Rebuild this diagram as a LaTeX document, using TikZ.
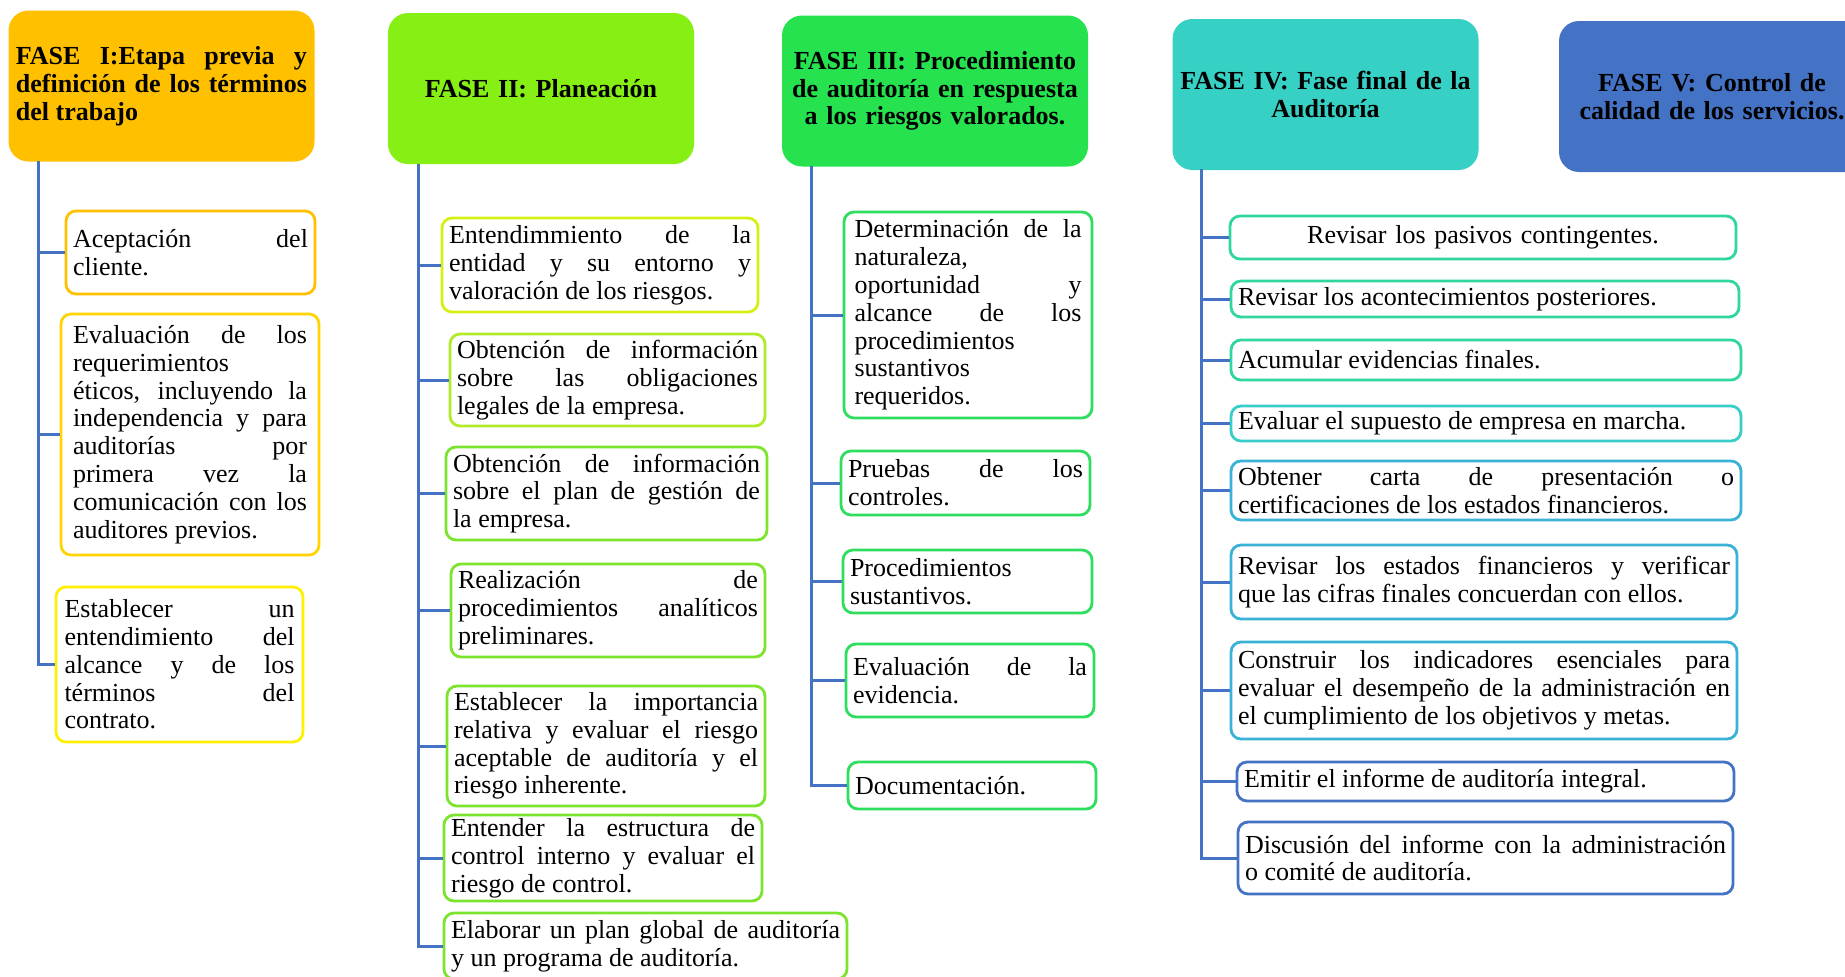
\documentclass[tikz,border=0pt]{standalone}
\usepackage{xcolor}
\usepackage{fontspec}
\setmainfont{Liberation Serif}
\usepackage{tikz}
\setlength{\parindent}{0pt}

\definecolor{conector}{RGB}{68,114,196}
\definecolor{fase1}{RGB}{255,192,0}
\definecolor{fase2}{RGB}{134,239,19}
\definecolor{fase3}{RGB}{37,226,78}
\definecolor{fase4}{RGB}{54,209,196}
\definecolor{fase5}{RGB}{68,114,196}
\definecolor{borde1a}{RGB}{255,192,0}
\definecolor{borde1b}{RGB}{255,212,0}
\definecolor{borde1c}{RGB}{255,240,0}
\definecolor{borde2a}{RGB}{215,240,20}
\definecolor{borde2b}{RGB}{175,235,40}
\definecolor{borde2c}{RGB}{125,228,45}
\definecolor{borde3}{RGB}{45,222,95}
\definecolor{borde4a}{RGB}{48,214,160}
\definecolor{borde4b}{RGB}{55,205,200}
\definecolor{borde4c}{RGB}{58,178,214}
\definecolor{borde4d}{RGB}{68,114,196}

% letra de las cajas (espacios elasticos para justificar)
\newcommand{\letra}{\fontsize{13pt}{13.9pt}\selectfont
    \spaceskip=.25em plus .25em minus .06em\relax\tolerance=10000\relax}
\newcommand{\negrita}{\fontsize{13pt}{13.9pt}\selectfont\bfseries
    \spaceskip=.25em plus .25em minus .06em\relax\tolerance=10000\relax}

\begin{document}
\begin{tikzpicture}[x=0.5pt, y=-0.5pt,
    fase/.style={fill=#1, rounded corners=10pt, inner xsep=3.75pt, inner ysep=0pt,
        text width=145.5pt, minimum height=75.5pt, align=center, font=\negrita},
    hoja/.style={draw=#1, line width=1.4pt, rounded corners=5pt, fill=white,
        inner xsep=3.5pt, inner ysep=0pt, align=justify, font=\letra},
    rama/.style={draw=conector, line width=1.5pt}]

    \useasboundingbox (0,0) rectangle (1845,976);
    \clip (0,0) rectangle (1845,976);

    % fases
    \node[fase=fase1, align=justify] (h1) at (161.5,86) {FASE I:Etapa previa y\linebreak definición de los términos\linebreak del trabajo};
    \node[fase=fase2] (h2) at (541,88.5) {FASE II: Planeación};
    \node[fase=fase3] (h3) at (935,91) {FASE III: Procedimiento\\ de auditoría en respuesta\\ a los riesgos valorados.};
    \node[fase=fase4] (h4) at (1325.5,94.5) {FASE IV: Fase final de la\\ Auditoría};
    \node[fase=fase5] (h5) at (1712,96.5) {FASE V: Control de\\ calidad de los servicios.};

    % fase I
    \node[hoja=borde1a, text width=117.5pt, minimum height=41.5pt] (c11) at (190.5,252.5) {Aceptación del\linebreak cliente.};
    \node[hoja=borde1b, text width=117pt, inner xsep=6pt, minimum height=120.5pt] (c12) at (190,434.5) {Evaluación de los\linebreak requerimientos\newline éticos, incluyendo la\linebreak independencia y para\linebreak auditorías por\linebreak primera vez la\linebreak comunicación con los\linebreak auditores previos.};
    \node[hoja=borde1c, text width=115pt, inner xsep=4.25pt, minimum height=77.5pt] (c13) at (179.5,664.5) {Establecer un\linebreak entendimiento del\linebreak alcance y de los\linebreak términos del\linebreak contrato.};

    % fase II
    \node[hoja=borde2a, text width=151pt, minimum height=47pt] (c21) at (600,265) {Entendimmiento de la\linebreak entidad y su entorno y\linebreak valoración de los riesgos.};
    \node[hoja=borde2b, text width=150.5pt, minimum height=46pt] (c22) at (607.5,380) {Obtención de información\linebreak sobre las obligaciones\linebreak legales de la empresa.};
    \node[hoja=borde2c, text width=153.5pt, minimum height=46.5pt] (c23) at (606.5,493.5) {Obtención de información\linebreak sobre el plan de gestión de\linebreak la empresa.};
    \node[hoja=borde2c, text width=150pt, minimum height=46.5pt] (c24) at (608,610.5) {Realización de\linebreak procedimientos analíticos\linebreak preliminares.};
    \node[hoja=borde2c, text width=152pt, minimum height=60pt] (c25) at (606,746) {Establecer la importancia\linebreak relativa y evaluar el riesgo\linebreak aceptable de auditoría y el\linebreak riesgo inherente.};
    \node[hoja=borde2c, text width=152pt, minimum height=43pt] (c26) at (603,858) {Entender la estructura de\linebreak control interno y evaluar el\linebreak riesgo de control.};
    \node[hoja=borde2c, text width=194.5pt, minimum height=33pt] (c27) at (645.5,946) {Elaborar un plan global de auditoría\linebreak y un programa de auditoría.};

    % fase III
    \node[hoja=borde3, text width=113.5pt, inner xsep=5.25pt, minimum height=103pt] (c31) at (968,315) {Determinación de la\linebreak naturaleza,\newline oportunidad y\linebreak alcance de los\linebreak procedimientos\newline sustantivos\newline requeridos.};
    \node[hoja=borde3, text width=117.5pt, minimum height=32pt] (c32) at (965.5,483) {Pruebas de los\linebreak controles.};
    \node[hoja=borde3, text width=117.5pt, minimum height=31.5pt] (c33) at (967.5,581.5) {Procedimientos\newline sustantivos.};
    \node[hoja=borde3, text width=117pt, minimum height=36.5pt] (c34) at (970,680.5) {Evaluación de la\linebreak evidencia.};
    \node[hoja=borde3, text width=117pt, minimum height=23.5pt] (c35) at (972,785.5) {Documentación.};

    % fase IV
    \node[hoja=borde4a, text width=246pt, minimum height=21.5pt, align=center] (c41) at (1483,237.5) {Revisar los pasivos contingentes.};
    \node[hoja=borde4a, text width=247pt, minimum height=18pt] (c42) at (1485,299) {Revisar los acontecimientos posteriores.};
    \node[hoja=borde4a, text width=248pt, minimum height=20pt] (c43) at (1486,360) {Acumular evidencias finales.};
    \node[hoja=borde4b, text width=248pt, minimum height=17.5pt] (c44) at (1486,423.5) {Evaluar el supuesto de empresa en marcha.};
    \node[hoja=borde4c, text width=248pt, minimum height=29.5pt] (c45) at (1486,490.5) {Obtener carta de presentación o\linebreak certificaciones de los estados financieros.};
    \node[hoja=borde4c, text width=246pt, minimum height=37pt] (c46) at (1484,582) {Revisar los estados financieros y verificar\linebreak que las cifras finales concuerdan con ellos.};
    \node[hoja=borde4c, text width=246pt, minimum height=48.5pt] (c47) at (1484,690.5) {Construir los indicadores esenciales para\linebreak evaluar el desempeño de la administración en\linebreak el cumplimiento de los objetivos y metas.};
    \node[hoja=borde4d, text width=241.5pt, minimum height=19.5pt] (c48) at (1485.5,781.5) {Emitir el informe de auditoría integral.};
    \node[hoja=borde4d, text width=240.5pt, minimum height=36pt] (c49) at (1485.5,858) {Discusión del informe con la administración\linebreak o comité de auditoría.};

    % ramas
    \coordinate (t1) at (38,161);
    \coordinate (t2) at (418,164);
    \coordinate (t3) at (811,166);
    \coordinate (t4) at (1201,169);

    \draw[rama] (t1) |- (c13.west);
    \foreach \n in {c11,c12} \draw[rama] (t1 |- \n.west) -- (\n.west);
    \draw[rama] (t2) |- (c27.west);
    \foreach \n in {c21,c22,c23,c24,c25,c26} \draw[rama] (t2 |- \n.west) -- (\n.west);
    \draw[rama] (t3) |- (c35.west);
    \foreach \n in {c31,c32,c33,c34} \draw[rama] (t3 |- \n.west) -- (\n.west);
    \draw[rama] (t4) |- (c49.west);
    \foreach \n in {c41,c42,c43,c44,c45,c46,c47,c48} \draw[rama] (t4 |- \n.west) -- (\n.west);

\end{tikzpicture}
\end{document}
